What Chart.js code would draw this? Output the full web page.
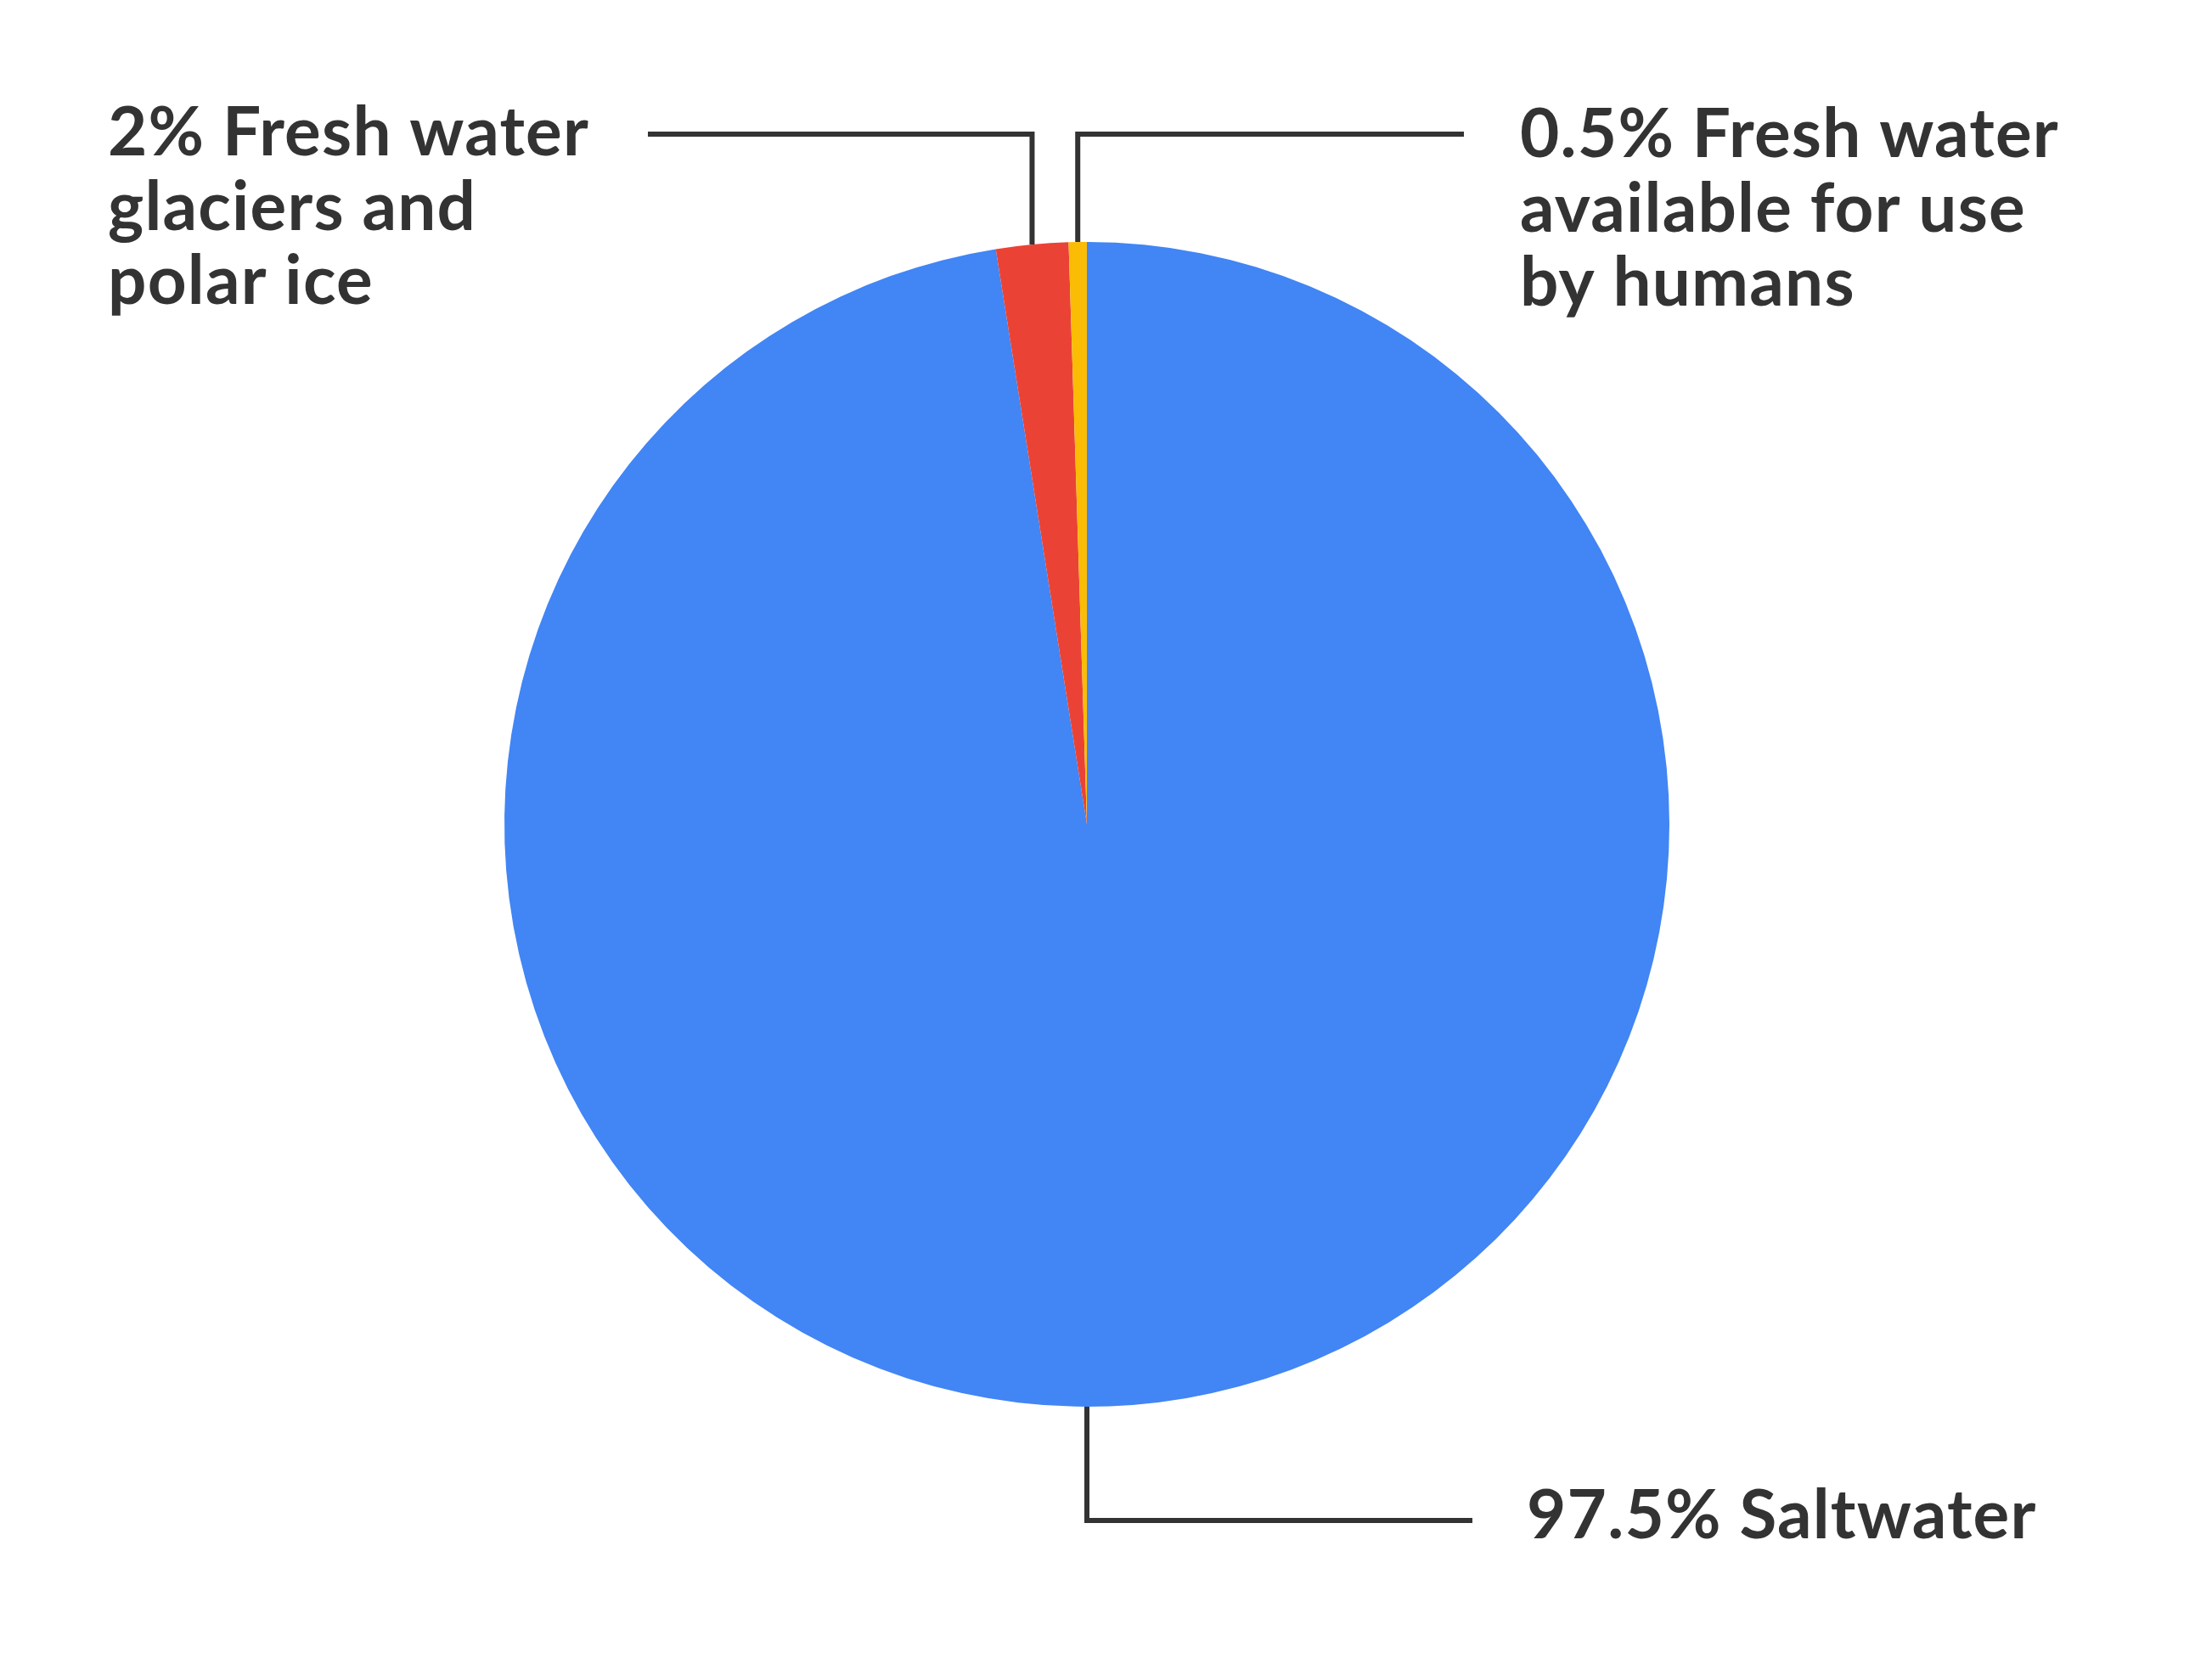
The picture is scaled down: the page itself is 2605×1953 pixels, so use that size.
<!DOCTYPE html>
<html>
<head>
<meta charset="utf-8">
<script src="https://cdn.jsdelivr.net/npm/chart.js@4.4.1/dist/chart.umd.min.js"></script>
<style>
  html, body { margin: 0; padding: 0; background: #fff; }
  #wrap { width: 2605px; height: 1953px; position: relative; }
</style>
</head>
<body>
<div id="wrap"><canvas id="waterChart"></canvas></div>
<script>
// share of earth's water, clockwise from 12 o'clock
const categories = ["Saltwater", "Fresh water glaciers and polar ice", "Fresh water available for use by humans"];
const shares = [97.5, 2, 0.5];
const sliceColors = ["#4285F4", "#EA4335", "#FBBC05"];
const labelLines = [
  ["97.5% Saltwater"],
  ["2% Fresh water", "glaciers and", "polar ice"],
  ["0.5% Fresh water", "available for use", "by humans"]
];

const INK = "#333333";
const FONT = "700 80px Lato";

// leader lines + labels
const calloutPlugin = {
  id: "callouts",
  afterDatasetsDraw(chart) {
    const ctx = chart.ctx;
    const arcs = chart.getDatasetMeta(0).data;
    ctx.save();
    ctx.strokeStyle = INK;
    ctx.lineWidth = 6;
    ctx.lineJoin = "miter";
    ctx.lineCap = "butt";

    // saltwater: from the bottom of the pie, down and right
    const a0 = arcs[0].getProps(["x", "y", "outerRadius"], true);
    ctx.beginPath();
    ctx.moveTo(a0.x, a0.y + a0.outerRadius);
    ctx.lineTo(a0.x, 1791);
    ctx.lineTo(1734, 1791);
    ctx.stroke();

    // small slices: up from the middle of the arc
    const ends = [null, 763, 1724];
    for (let i = 1; i < arcs.length; i++) {
      const p = arcs[i].getProps(["x", "y", "startAngle", "endAngle", "outerRadius"], true);
      const mid = (p.startAngle + p.endAngle) / 2;
      const ex = p.x + p.outerRadius * Math.cos(mid);
      const ey = p.y + p.outerRadius * Math.sin(mid);
      ctx.beginPath();
      ctx.moveTo(ex, ey);
      ctx.lineTo(ex, 158);
      ctx.lineTo(ends[i], 158);
      ctx.stroke();
    }

    ctx.fillStyle = INK;
    ctx.font = FONT;
    ctx.letterSpacing = "1.2px";
    ctx.textAlign = "left";
    ctx.textBaseline = "alphabetic";
    const spots = [[1798, 1812], [127, 183], [1790, 185]];
    labelLines.forEach((lines, i) => {
      lines.forEach((t, j) => ctx.fillText(t, spots[i][0], spots[i][1] + j * 87.5));
    });
    ctx.restore();
  }
};

document.fonts.load(FONT).then(() => {
  new Chart(document.getElementById("waterChart"), {
    type: "pie",
    data: {
      labels: categories,
      datasets: [{
        data: shares,
        backgroundColor: sliceColors,
        borderWidth: 0
      }]
    },
    options: {
      responsive: true,
      maintainAspectRatio: false,
      animation: false,
      layout: { padding: { left: 0, right: 45, top: 285, bottom: 296 } },
      plugins: {
        legend: { display: false },
        tooltip: { enabled: false }
      }
    },
    plugins: [calloutPlugin]
  });
});
</script>
</body>
</html>
